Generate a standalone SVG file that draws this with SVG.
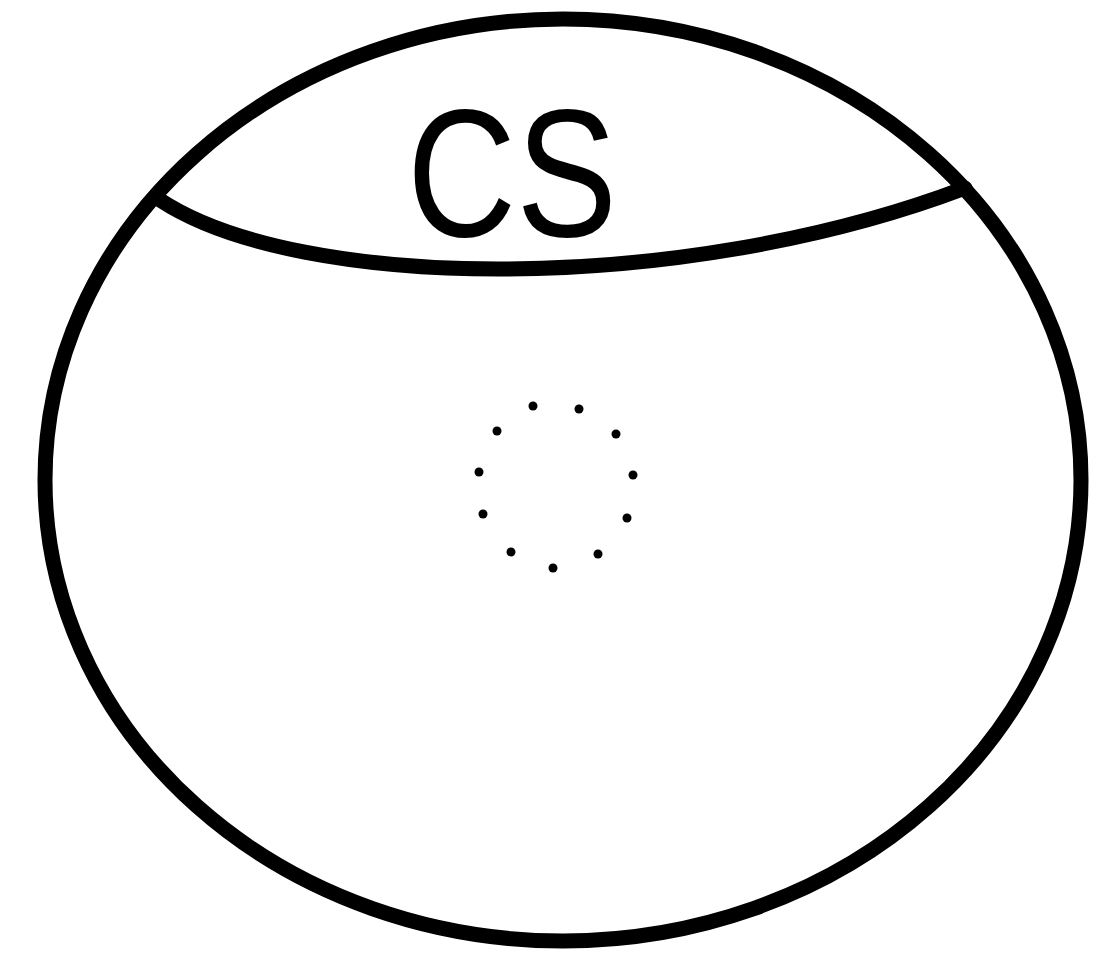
<svg xmlns="http://www.w3.org/2000/svg" width="1095" height="956" viewBox="0 0 1095 956">
<style>
.line{fill:none;stroke:#000;stroke-width:15;stroke-linecap:round;stroke-linejoin:round}
.dot{fill:#000}
.lbl{font-family:"Liberation Sans",Arial,sans-serif;font-size:182px;fill:#000}
</style>
<rect width="1095" height="956" fill="#fff"/>
<g id="outer">
<ellipse class="line" cx="563" cy="480" rx="518" ry="461"/>
</g>
<g id="chord">
<path class="line" d="M160 200 C300 292 680 296 965 188"/>
</g>
<g id="label">
<text class="lbl" x="407" y="236" textLength="210" lengthAdjust="spacingAndGlyphs">CS</text>
</g>
<g id="dotted-circle">
<circle class="dot" cx="533" cy="406" r="4.5"/>
<circle class="dot" cx="579" cy="409" r="4.5"/>
<circle class="dot" cx="497" cy="431" r="4.5"/>
<circle class="dot" cx="616" cy="434" r="4.5"/>
<circle class="dot" cx="479" cy="472" r="4.5"/>
<circle class="dot" cx="633" cy="475" r="4.5"/>
<circle class="dot" cx="483" cy="514" r="4.5"/>
<circle class="dot" cx="627" cy="518" r="4.5"/>
<circle class="dot" cx="511" cy="552" r="4.5"/>
<circle class="dot" cx="598" cy="554" r="4.5"/>
<circle class="dot" cx="553" cy="568" r="4.5"/>
</g>
</svg>
